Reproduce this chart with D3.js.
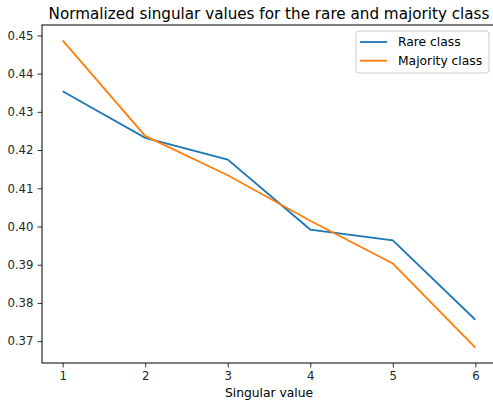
<!DOCTYPE html>
<meta charset="utf-8">
<style>
    body { margin: 0; background: #fff; }
    svg { display: block; font-family: "DejaVu Sans", sans-serif; }
</style>
<script src="https://d3js.org/d3.v7.min.js"></script>
<div id="chart"></div>
<script>
    // data
    var singular = [1, 2, 3, 4, 5, 6];
    var rareClass = [0.4354, 0.4232, 0.4175, 0.3992, 0.3964, 0.3756];
    var majorityClass = [0.4487, 0.4237, 0.4134, 0.4015, 0.3903, 0.3683];
    var yTicks = [0.37, 0.38, 0.39, 0.40, 0.41, 0.42, 0.43, 0.44, 0.45];
    var xTicks = [1, 2, 3, 4, 5, 6];

    var series = [
        {name: "Rare class", values: rareClass, color: "#1f77b4"},
        {name: "Majority class", values: majorityClass, color: "#ff7f0e"}
    ];

    var W = 493, H = 405;
    var margin = {top: 25, right: -3, bottom: 42, left: 42},
        width = W - margin.left - margin.right,
        height = H - margin.top - margin.bottom;

    var svg = d3.select("#chart").append("svg")
        .attr("width", W)
        .attr("height", H);

    var g = svg.append("g")
        .attr("transform", "translate(" + margin.left + "," + margin.top + ")");

    // matplotlib style 5% margins
    var allY = rareClass.concat(majorityClass);
    var yMin = d3.min(allY), yMax = d3.max(allY), pad = (yMax - yMin) * 0.05;

    var x = d3.scaleLinear().domain([0.75, 6.25]).range([0, width]);
    var y = d3.scaleLinear().domain([yMin - pad, yMax + pad]).range([height, 0]);

    var xAxis = g.append("g")
        .attr("transform", "translate(0," + height + ")")
        .call(d3.axisBottom(x).tickValues(xTicks).tickFormat(d3.format("d")).tickSize(4.5).tickPadding(4));

    var yAxis = g.append("g")
        .call(d3.axisLeft(y).tickValues(yTicks).tickFormat(d3.format(".2f")).tickSize(4.5).tickPadding(4));

    [xAxis, yAxis].forEach(function (a) {
        a.selectAll("text").attr("fill", "#262626").style("font-size", "11.7px").style("font-family", "DejaVu Sans");
        a.selectAll("line").attr("stroke", "#333").attr("stroke-width", 1);
        a.select(".domain").remove();
    });

    // frame (spines)
    g.append("rect")
        .attr("width", width)
        .attr("height", height)
        .attr("fill", "none")
        .attr("stroke", "#000")
        .attr("stroke-width", 1);

    var line = d3.line()
        .x(function (d, i) { return x(singular[i]); })
        .y(function (d) { return y(d); });

    g.selectAll(".series")
        .data(series)
        .enter()
        .append("path")
        .attr("class", "series")
        .attr("fill", "none")
        .attr("stroke", function (d) { return d.color; })
        .attr("stroke-width", 1.8)
        .attr("d", function (d) { return line(d.values); });

    // title and axis label
    svg.append("text")
        .attr("x", margin.left + width / 2)
        .attr("y", margin.top - 6)
        .attr("text-anchor", "middle")
        .attr("fill", "#000")
        .style("font-size", "15.2px")
        .text("Normalized singular values for the rare and majority class");

    svg.append("text")
        .attr("x", margin.left + width / 2)
        .attr("y", H - 8)
        .attr("text-anchor", "middle")
        .attr("fill", "#000")
        .style("font-size", "12.3px")
        .text("Singular value");

    // legend
    var legend = svg.append("g").attr("transform", "translate(356,31)");
    legend.append("rect")
        .attr("width", 133)
        .attr("height", 42)
        .attr("rx", 3)
        .attr("fill", "#fff")
        .attr("fill-opacity", 0.8)
        .attr("stroke", "#ccc");

    var items = legend.selectAll(".item")
        .data(series)
        .enter()
        .append("g")
        .attr("class", "item")
        .attr("transform", function (d, i) { return "translate(0," + (11 + i * 18.7) + ")"; });

    items.append("line")
        .attr("x1", 4).attr("x2", 31)
        .attr("stroke", function (d) { return d.color; })
        .attr("stroke-width", 1.8);

    items.append("text")
        .attr("x", 42)
        .attr("dy", "0.35em")
        .attr("fill", "#000")
        .style("font-size", "12.3px")
        .text(function (d) { return d.name; });
</script>
